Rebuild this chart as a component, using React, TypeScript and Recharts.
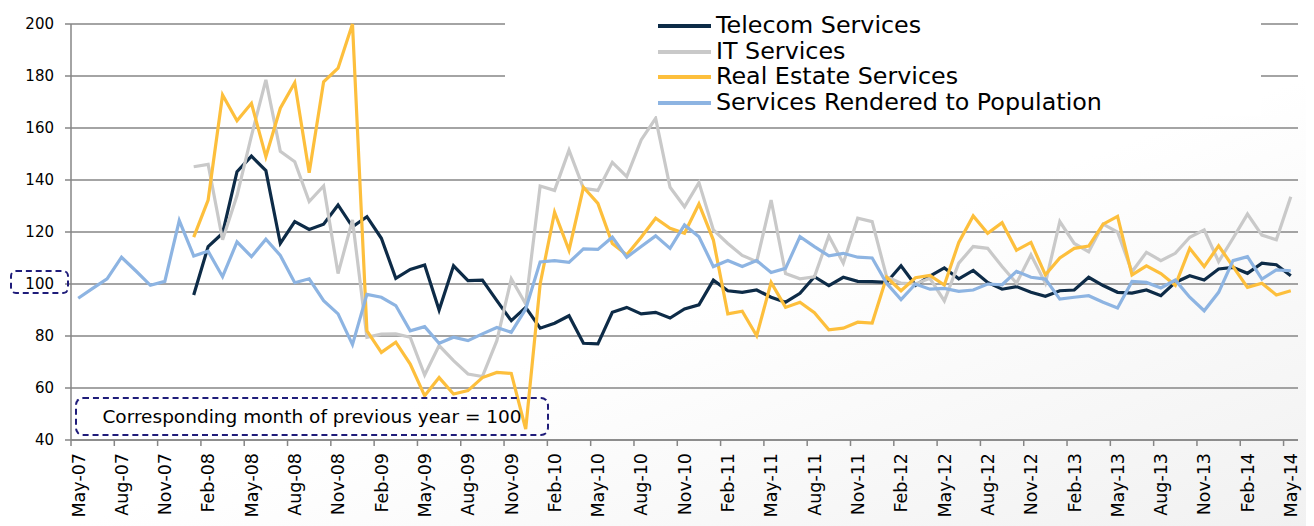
import React from 'react';
import { LineChart, Line, XAxis, YAxis, CartesianGrid, Legend } from 'recharts';

// Month index 0 = May-07 ... 84 = May-14 (monthly, corresponding month of previous year = 100)
const tickLabels = [
  'May-07', 'Aug-07', 'Nov-07', 'Feb-08', 'May-08', 'Aug-08', 'Nov-08', 'Feb-09', 'May-09', 'Aug-09',
  'Nov-09', 'Feb-10', 'May-10', 'Aug-10', 'Nov-10', 'Feb-11', 'May-11', 'Aug-11', 'Nov-11', 'Feb-12',
  'May-12', 'Aug-12', 'Nov-12', 'Feb-13', 'May-13', 'Aug-13', 'Nov-13', 'Feb-14', 'May-14',
];

const N = null;

const telecom = [
  N, N, N, N, N, N, N, N, 95.8, 114.4, 119.5, 143.2, 149.2, 143.6, 115.6, 124, 121, 123, 130.4, 122,
  125.9, 117.6, 102.2, 105.6, 107.3, 90, 107, 101.3, 101.5, 93.6, 85.9, 91, 83, 84.9, 87.8, 77.2, 77, 89.1, 91, 88.5,
  89.1, 86.9, 90.4, 92, 101.5, 97.4, 96.8, 97.7, 94.9, 93, 96.4, 102.8, 99.4, 102.6, 101, 100.9, 100.6, 107, 99.5, 103,
  106.2, 102, 105.2, 100.6, 98, 99, 96.8, 95.3, 97.4, 97.7, 102.6, 99.4, 96.8, 96.5, 97.7, 95.5, 100.6, 103.2, 101.5, 105.8,
  106.4, 104.1, 108, 107.4, 103.2,
];

const itServices = [
  N, N, N, N, N, N, N, N, 145.1, 146, 117, 134, 157, 178.5, 151, 147, 131.7, 137.7, 104, 124.6,
  79.5, 80.7, 80.8, 79.5, 65, 76.3, 70.5, 65.4, 64.4, 78.2, 102, 92.3, 137.7, 136, 151.5, 136.8, 136, 146.8, 141.3, 155.4,
  163.7, 137.2, 129.7, 139, 120.8, 115.6, 111, 108.6, 132.3, 104, 102, 102.8, 118.5, 108, 125.3, 124, 102.8, 100.3, 100, 102.2,
  93.5, 108, 114.4, 113.7, 106.7, 100.3, 111.2, 100.3, 124, 115.6, 112.4, 123, 120, 104.7, 112.2, 109, 111.8, 118, 120.8, 108.6,
  117.6, 126.9, 118.8, 117, 133.6,
];

const realEstate = [
  N, N, N, N, N, N, N, N, 118, 132.3, 172.7, 162.8, 169.5, 149, 167.6, 177.4, 142.8, 177.8, 183, 200,
  82, 73.7, 77.6, 69.2, 57, 64, 57.7, 59, 64, 66, 65.6, 44.2, 100, 127.6, 113, 137.2, 131, 115.6, 111.2, 118,
  125.3, 121.4, 119.5, 130.8, 116.9, 88.5, 89.5, 80.1, 100.6, 91, 93, 89, 82.4, 83, 85.3, 85, 102.6, 97.4, 102.4, 103.3,
  99.6, 116, 126.2, 119.5, 123.6, 113, 116, 103.5, 110, 113.7, 114.6, 123, 126, 103.5, 107, 104, 99.5, 113.7, 106.7, 114.7,
  106.7, 98.7, 100.3, 95.8, 97.4,
];

const population = [
  94.5, 98.3, 102, 110.3, 105, 99.5, 101, 124.4, 110.8, 112.6, 102.8, 116.2, 110.5, 117.2, 111, 100.5, 102, 93.6, 88.5, 76.7,
  96, 94.9, 91.7, 82, 83.6, 77.2, 79.5, 78.2, 80.8, 83.3, 81.4, 90.4, 108.5, 109, 108.3, 113.5, 113.3, 118, 110.3, 114.4,
  118.5, 113.7, 122.7, 118.2, 106.7, 109, 106.7, 109, 104.4, 106, 118.2, 114.4, 110.8, 111.8, 110.3, 110, 100.3, 94, 100, 98,
  98.3, 97.2, 97.7, 100, 99.7, 104.9, 102.6, 101.9, 94.2, 94.9, 95.5, 93, 90.8, 101, 100.6, 98.5, 101.5, 94.9, 89.7, 96.8,
  109, 110.5, 101.9, 105.4, 105.1,
];

const yTicks = [40, 60, 80, 100, 120, 140, 160, 180, 200];

const series = [
  { key: 'telecom', name: 'Telecom Services', color: '#0d2b47' },
  { key: 'it', name: 'IT Services', color: '#c9c9c9' },
  { key: 'realEstate', name: 'Real Estate Services', color: '#fdbf3c' },
  { key: 'population', name: 'Services Rendered to Population', color: '#8db4e2' },
];

const data = population.map((_, i) => ({
  idx: i,
  telecom: telecom[i],
  it: itServices[i],
  realEstate: realEstate[i],
  population: population[i],
}));

const WIDTH = 1314;
const HEIGHT = 526;
const Y_AXIS_W = 71;
const RIGHT = 16;
const MONTHS = population.length;
const halfStep = (WIDTH - Y_AXIS_W - RIGHT) / MONTHS / 2;

// tick marks sit on month boundaries, labels at the month centre
const xTicks = tickLabels.map((_, k) => k * 3 - 0.5);

const FONT = '"DejaVu Sans", Verdana, sans-serif';
const NAVY = '#1f1c7a';

const MonthTick = ({ x, y, payload }: any) => {
  const k = Math.round((payload.value + 0.5) / 3);
  const cx = x + halfStep;
  return (
    <text
      x={cx}
      y={y}
      transform={`rotate(-90, ${cx}, ${y})`}
      textAnchor="end"
      dy="0.36em"
      fontSize={17.5}
      fontFamily={FONT}
      fill="#000"
    >
      {tickLabels[k]}
    </text>
  );
};

const ChartLegend = () => (
  <div style={{ paddingTop: 3, paddingLeft: 153 }}>
    {series.map(s => (
      <div key={s.key} style={{ display: 'flex', alignItems: 'center', height: 25.7 }}>
        <div style={{ width: 53, height: 4, backgroundColor: s.color, marginRight: 5 }} />
        <span style={{ fontSize: 23.8, lineHeight: '25.7px', color: '#000', fontFamily: FONT, whiteSpace: 'nowrap' }}>
          {s.name}
        </span>
      </div>
    ))}
  </div>
);

const App: React.FC = () => {
  return (
    <div
      style={{
        position: 'relative',
        width: WIDTH,
        height: HEIGHT,
        margin: '-8px 0 0 -8px',
        overflow: 'hidden',
        fontFamily: FONT,
        background: 'linear-gradient(160deg, #ffffff 55%, #f1f1f1 100%)',
      }}
    >
      <div
        style={{
          position: 'absolute',
          left: 5,
          top: 5,
          width: 1308,
          height: 560,
          border: '2px solid #dadada',
          boxSizing: 'border-box',
        }}
      />
      <LineChart
        width={WIDTH}
        height={HEIGHT}
        data={data}
        margin={{ top: 24, right: RIGHT, bottom: 0, left: 0 }}
      >
        <CartesianGrid horizontal vertical={false} stroke="#868686" strokeWidth={1.5} />
        <XAxis
          dataKey="idx"
          type="number"
          domain={[-0.5, MONTHS - 0.5]}
          ticks={xTicks}
          interval={0}
          height={86}
          tickSize={6}
          tickMargin={7}
          axisLine={{ stroke: '#868686', strokeWidth: 1.5 }}
          tickLine={{ stroke: '#868686', strokeWidth: 1.5 }}
          tick={<MonthTick />}
        />
        <YAxis
          domain={[40, 200]}
          ticks={yTicks}
          interval={0}
          width={Y_AXIS_W}
          tickSize={6}
          tickMargin={11}
          axisLine={{ stroke: '#868686', strokeWidth: 1.5 }}
          tickLine={{ stroke: '#868686', strokeWidth: 1.5 }}
          tick={{ fontSize: 15, fill: '#000', fontFamily: FONT }}
        />
        {series.map(s => (
          <Line
            key={s.key}
            type="linear"
            dataKey={s.key}
            name={s.name}
            stroke={s.color}
            strokeWidth={3.2}
            dot={false}
            activeDot={false}
            isAnimationActive={false}
          />
        ))}
        <Legend
          layout="vertical"
          verticalAlign="middle"
          align="center"
          wrapperStyle={{ left: 505, top: 10, width: 756, height: 106, backgroundColor: '#fff' }}
          content={<ChartLegend />}
        />
      </LineChart>
      {/* dashed callouts */}
      <div
        style={{
          position: 'absolute',
          left: 10,
          top: 270,
          width: 59,
          height: 24,
          border: `2px dashed ${NAVY}`,
          borderRadius: 6,
          boxSizing: 'border-box',
        }}
      />
      <div
        style={{
          position: 'absolute',
          left: 75,
          top: 397,
          width: 474,
          height: 39,
          border: `2px dashed ${NAVY}`,
          borderRadius: 8,
          boxSizing: 'border-box',
          display: 'flex',
          alignItems: 'center',
          justifyContent: 'center',
          fontSize: 18.5,
          color: '#000',
        }}
      >
        Corresponding month of previous year = 100
      </div>
    </div>
  );
};

export default App;
